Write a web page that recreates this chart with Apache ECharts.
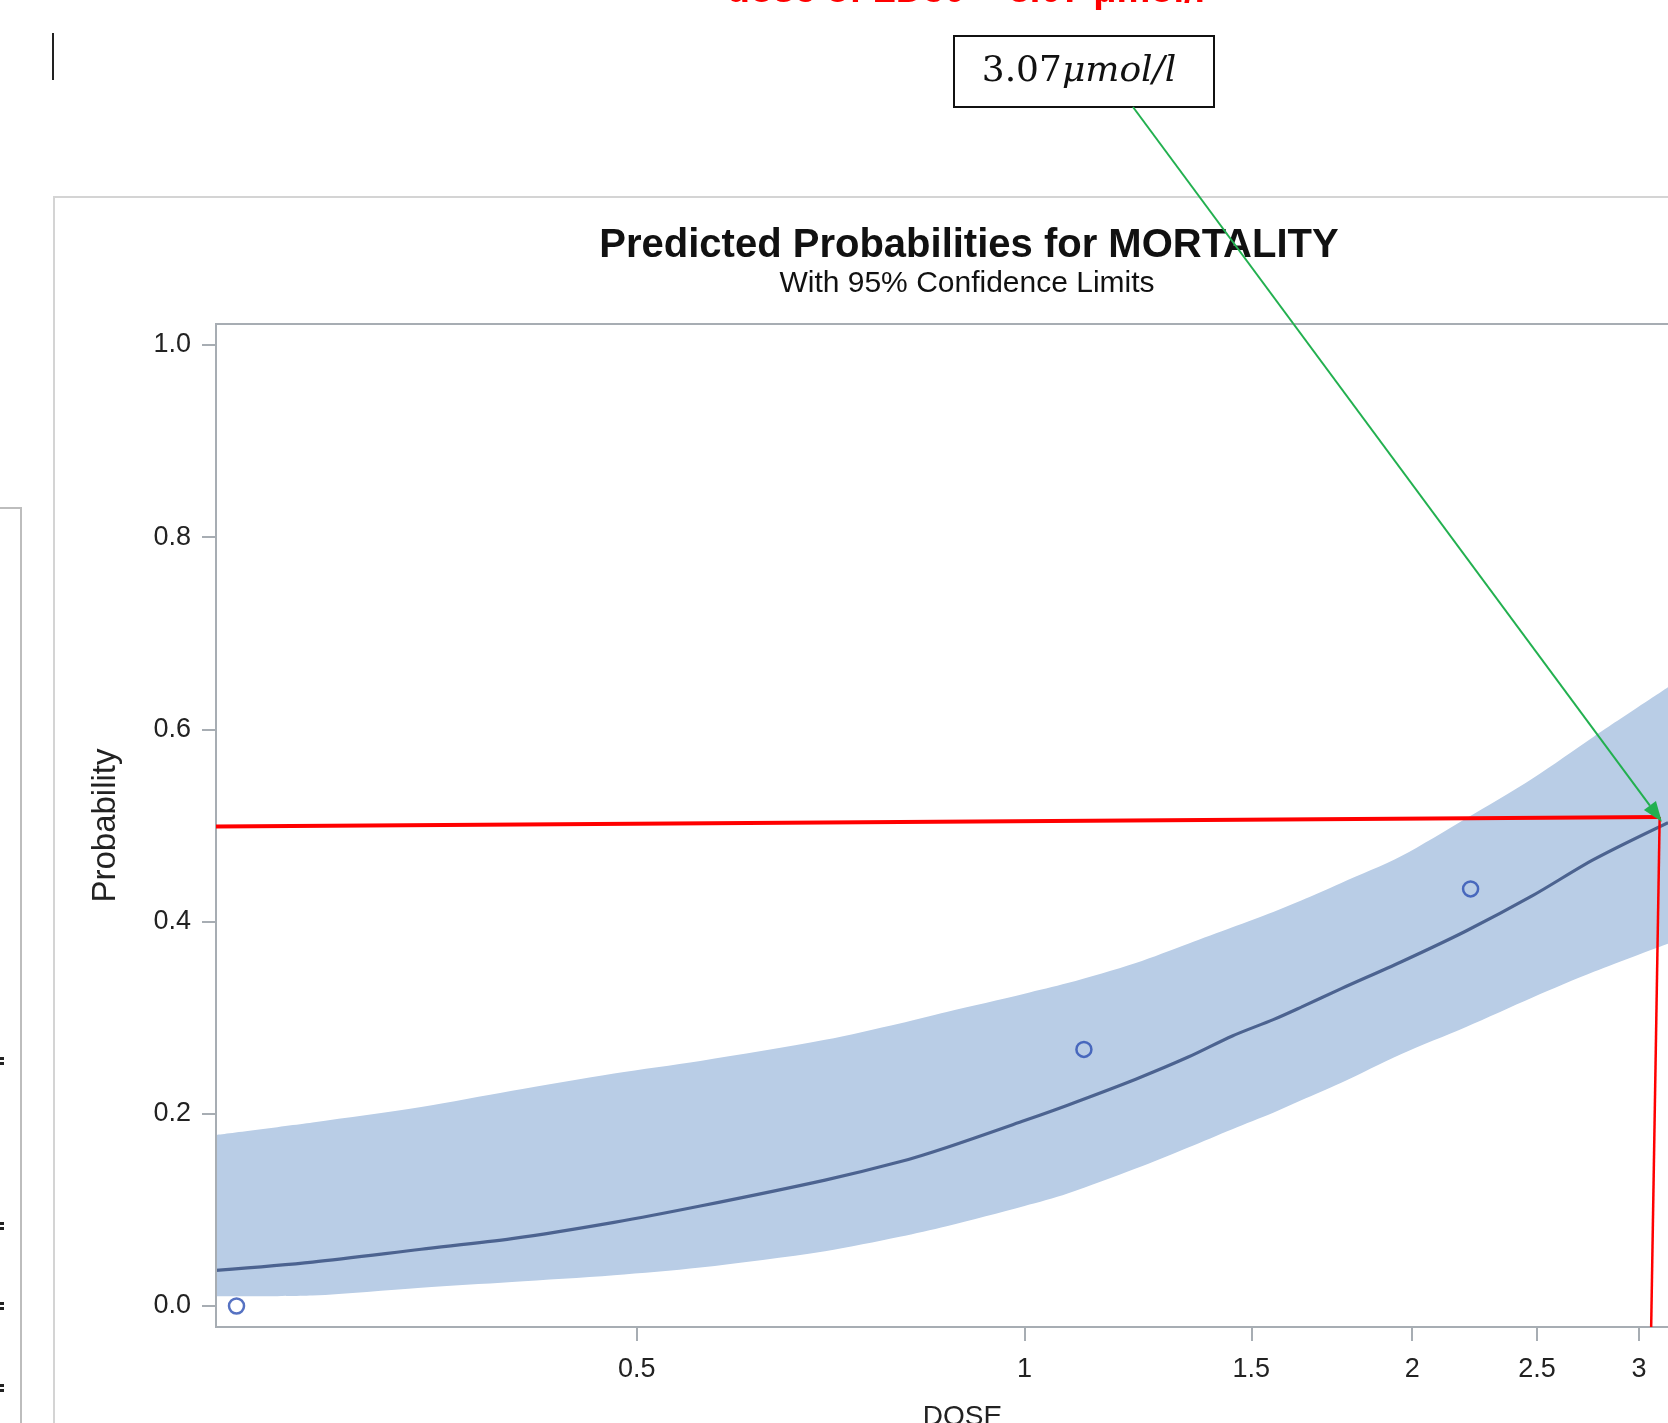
<!DOCTYPE html>
<html><head><meta charset="utf-8">
<script src="https://cdn.jsdelivr.net/npm/echarts@6/dist/echarts.min.js"></script>
<style>html,body{margin:0;padding:0;background:#fff;overflow:hidden}#c{width:1668px;height:1423px}</style>
</head><body><div id="c"></div>
<script>
// ---- data ----
const doses      = [0.2356,0.28,0.34,0.40,0.48,0.56,0.70,0.80,0.87,1.00,1.08,1.22,1.34,1.45,1.56,1.64,1.76,1.96,2.20,2.48,2.77,3.16];
const predicted  = [0.037,0.0457,0.059,0.070,0.087,0.104,0.131,0.150,0.165,0.193,0.209,0.236,0.259,0.281,0.298,0.311,0.330,0.358,0.390,0.427,0.465,0.503];
const upperCL    = [0.178,0.191,0.207,0.224,0.242,0.255,0.277,0.294,0.306,0.325,0.336,0.357,0.377,0.394,0.410,0.422,0.440,0.468,0.507,0.549,0.593,0.644];
const lowerCL    = [0.010,0.011,0.019,0.025,0.032,0.040,0.057,0.072,0.083,0.104,0.117,0.143,0.165,0.184,0.201,0.214,0.232,0.262,0.290,0.321,0.348,0.377];
const obsDose    = [0.2444,1.112,2.22];
const obsProb    = [0.0,0.267,0.434];
const refHDose   = [0.2356,3.113];
const refHProb   = [0.4989,0.5088];
const refVDose   = [3.113,3.066];
const refVProb   = [0.5088,-0.0219];
const arrowTip   = [3.125,0.504];
const xTicks     = [0.5,1,1.5,2,2.5,3];
const xTickLabels= ['0.5','1','1.5','2','2.5','3'];
const yTicks     = [0,0.2,0.4,0.6,0.8,1.0];
const yTickLabels= ['0.0','0.2','0.4','0.6','0.8','1.0'];
const xMin = 0.2356, xMax = 3.4, yMin = -0.0219, yMax = 1.0219;
const annotNumber = '3.07', annotUnit = 'μmol/l';

const L = Math.log;
const zip = (xs, ys) => xs.map((x, i) => [L(x), ys[i]]);
const gray = '#a7adb3';
const FONT = '"Liberation Sans", Arial, sans-serif';
const bandColor = '#b9cde6';

const chart = echarts.init(document.getElementById('c'), null, {renderer: 'canvas'});
const option = {
  backgroundColor: '#fff',
  animation: false,
  grid: {left: 216, top: 324, right: -41, bottom: 96, outerBoundsMode: 'none', containLabel: false,
         show: true, borderColor: gray, borderWidth: 2, backgroundColor: '#fff'},
  xAxis: {
    type: 'value', min: L(xMin), max: L(xMax), z: 5,
    splitLine: {show: false},
    axisLine: {show: true, onZero: false, lineStyle: {color: gray, width: 2}},
    axisTick: {show: true, customValues: xTicks.map(L), length: 14, lineStyle: {color: gray, width: 2}},
    axisLabel: {customValues: xTicks.map(L), margin: 29, fontSize: 27, color: '#222', fontFamily: FONT,
      formatter: v => { const i = xTicks.findIndex(t => Math.abs(L(t) - v) < 1e-6); return i >= 0 ? xTickLabels[i] : ''; }},
    name: 'DOSE', nameLocation: 'middle', nameGap: 76,
    nameTextStyle: {fontSize: 28, color: '#222', fontFamily: FONT}
  },
  yAxis: {
    type: 'value', min: yMin, max: yMax, z: 5,
    splitLine: {show: false},
    axisLine: {show: true, onZero: false, lineStyle: {color: gray, width: 2}},
    axisTick: {show: true, customValues: yTicks, length: 14, lineStyle: {color: gray, width: 2}},
    axisLabel: {customValues: yTicks, margin: 25, fontSize: 27, color: '#222', fontFamily: FONT,
      formatter: v => { const i = yTicks.findIndex(t => Math.abs(t - v) < 1e-6); return i >= 0 ? yTickLabels[i] : ''; }},
    name: 'Probability', nameLocation: 'middle', nameGap: 94,
    nameTextStyle: {fontSize: 33, color: '#222', fontFamily: FONT}
  },
  series: [
    // upper confidence limit, area filled down to the axis floor
    {type: 'line', name: 'upper', data: zip(doses, upperCL), symbol: 'none', smooth: 0.3,
     lineStyle: {opacity: 0, width: 0}, areaStyle: {color: bandColor, opacity: 1, origin: 'start'}, silent: true, z: 1},
    // lower confidence limit, white area below it clears the band
    {type: 'line', name: 'lower', data: zip(doses, lowerCL), symbol: 'none', smooth: 0.3,
     lineStyle: {opacity: 0, width: 0}, areaStyle: {color: '#ffffff', opacity: 1, origin: 'start'}, silent: true, z: 2},
    {type: 'line', name: 'predicted', data: zip(doses, predicted), symbol: 'none', smooth: 0.3,
     lineStyle: {color: '#4c6390', width: 3.2}, z: 3},
    {type: 'scatter', name: 'observed', data: zip(obsDose, obsProb), symbol: 'circle', symbolSize: 15,
     itemStyle: {color: 'rgba(0,0,0,0)', borderColor: '#2c4fb3', borderWidth: 2.5}, z: 4},
    {type: 'line', name: 'refH', data: zip(refHDose, refHProb), symbol: 'none',
     lineStyle: {color: '#ff0000', width: 4}, z: 6},
    {type: 'line', name: 'refV', data: zip(refVDose, refVProb), symbol: 'none',
     lineStyle: {color: '#ff0000', width: 2.5}, z: 6}
  ]
};
chart.setOption(option);

// annotation graphics
const tip = chart.convertToPixel({gridIndex: 0}, [L(arrowTip[0]), arrowTip[1]]);
const start = [1133, 107];
const dx = tip[0] - start[0], dy = tip[1] - start[1], len = Math.hypot(dx, dy);
const ux = dx / len, uy = dy / len, px = -uy, py = ux;
const headLen = 20, headW = 7.5;
const base = [tip[0] - ux * headLen, tip[1] - uy * headLen];
const marks = [1061, 1226, 1306, 1388];
const graphics = [
  {type: 'rect', z: 0, shape: {x: 54, y: 197, width: 1700, height: 1400}, style: {fill: null, stroke: '#d4d4d4', lineWidth: 2}, silent: true},
  {type: 'rect', z: 0, shape: {x: -20, y: 508, width: 41, height: 1000}, style: {fill: null, stroke: '#bdbdbd', lineWidth: 2}, silent: true},
  {type: 'rect', z: 0, shape: {x: 52, y: 33, width: 2, height: 47}, style: {fill: '#222'}, silent: true},
  {type: 'text', z: 10, x: 969, y: 246, style: {text: 'Predicted Probabilities for MORTALITY', font: 'bold 40px ' + FONT, fill: '#111', align: 'center', verticalAlign: 'middle'}},
  {type: 'text', z: 10, x: 967, y: 284, style: {text: 'With 95% Confidence Limits', font: '30px ' + FONT, fill: '#111', align: 'center', verticalAlign: 'middle'}},
  {type: 'text', z: 10, x: 966, y: -8, style: {text: 'dose of LD50 = 3.07 μmol/l', font: 'bold 38px ' + FONT, fill: '#ff0000', align: 'center', verticalAlign: 'middle'}},
  {type: 'rect', z: 20, shape: {x: 954, y: 36, width: 260, height: 71}, style: {fill: '#fff', stroke: '#111', lineWidth: 2}},
  {type: 'text', z: 21, x: 1079, y: 72, style: {
      rich: {n: {font: '36px "DejaVu Serif", serif', fill: '#111'}, u: {font: 'italic 36px "DejaVu Serif", serif', fill: '#111'}},
      text: '{n|' + annotNumber + '}{u|' + annotUnit + '}', align: 'center', verticalAlign: 'middle'}},
  {type: 'line', z: 30, shape: {x1: start[0], y1: start[1], x2: base[0], y2: base[1]}, style: {stroke: '#22b04f', lineWidth: 2}},
  {type: 'polygon', z: 30, shape: {points: [tip, [base[0] + px * headW, base[1] + py * headW], [base[0] - px * headW, base[1] - py * headW]]}, style: {fill: '#22b04f'}}
];
marks.forEach(m => {
  graphics.push({type: 'rect', z: 0, shape: {x: 0, y: m - 4, width: 4, height: 3}, style: {fill: '#222'}, silent: true});
  graphics.push({type: 'rect', z: 0, shape: {x: 0, y: m + 1, width: 4, height: 3}, style: {fill: '#222'}, silent: true});
});
chart.setOption({graphic: graphics});
</script></body></html>
